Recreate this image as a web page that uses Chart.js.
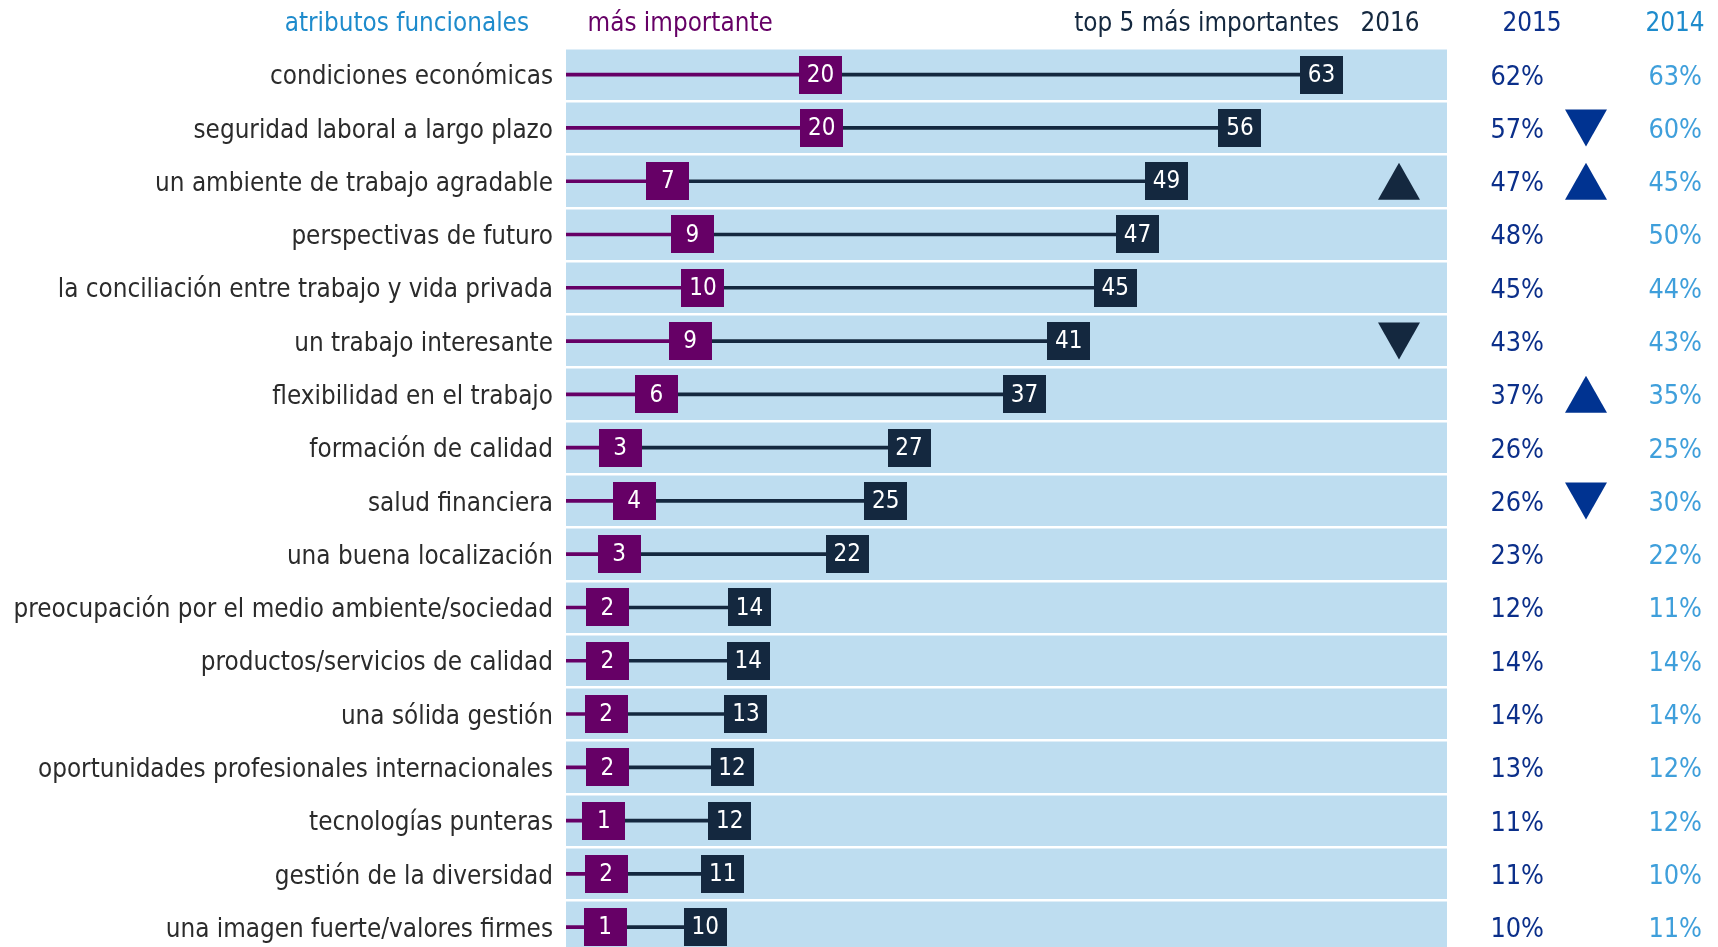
<!DOCTYPE html>
<html>
<head>
<meta charset="utf-8">
<script src="https://cdn.jsdelivr.net/npm/chart.js@4.4.1/dist/chart.umd.min.js"></script>
<style>
  html, body { margin: 0; padding: 0; background: #ffffff; overflow: hidden; }
  #wrap { position: relative; width: 1718px; height: 985px; }
</style>
</head>
<body>
<div id="wrap"><canvas id="chart" width="1718" height="985"></canvas></div>
<script>
// ---------------- data ----------------
const categories = [
  'condiciones económicas',
  'seguridad laboral a largo plazo',
  'un ambiente de trabajo agradable',
  'perspectivas de futuro',
  'la conciliación entre trabajo y vida privada',
  'un trabajo interesante',
  'flexibilidad en el trabajo',
  'formación de calidad',
  'salud financiera',
  'una buena localización',
  'preocupación por el medio ambiente/sociedad',
  'productos/servicios de calidad',
  'una sólida gestión',
  'oportunidades profesionales internacionales',
  'tecnologías punteras',
  'gestión de la diversidad',
  'una imagen fuerte/valores firmes'
];
// "más importante" (share, %)
const mostImportant = [20.0, 20.1, 6.9, 9.0, 9.9, 8.8, 5.9, 2.8, 4.0, 2.7, 1.7, 1.7, 1.6, 1.7, 1.4, 1.6, 1.5];
const mostImportantLabels = ['20', '20', '7', '9', '10', '9', '6', '3', '4', '3', '2', '2', '2', '2', '1', '2', '1'];
// "top 5 más importantes" 2016 (share, %)
const top5 = [63.0, 56.0, 49.7, 47.2, 45.3, 41.3, 37.5, 27.6, 25.6, 22.3, 13.9, 13.8, 13.6, 12.4, 12.2, 11.6, 10.1];
const top5Labels = ['63', '56', '49', '47', '45', '41', '37', '27', '25', '22', '14', '14', '13', '12', '12', '11', '10'];
const share2015 = ['62%', '57%', '47%', '48%', '45%', '43%', '37%', '26%', '26%', '23%', '12%', '14%', '14%', '13%', '11%', '11%', '10%'];
const share2014 = ['63%', '60%', '45%', '50%', '44%', '43%', '35%', '25%', '30%', '22%', '11%', '14%', '14%', '12%', '12%', '10%', '11%'];
// significant changes: 1 = up, -1 = down, 0 = none
const trend2016 = [0, 0, 1, 0, 0, -1, 0, 0, 0, 0, 0, 0, 0, 0, 0, 0, 0];
const trend2015 = [0, -1, 1, 0, 0, 0, 1, 0, -1, 0, 0, 0, 0, 0, 0, 0, 0];
const headerLabels = ['atributos funcionales', 'más importante', 'top 5 más importantes', '2016', '2015', '2014'];

// ---------------- style ----------------
const FONT = "'DejaVu Sans Condensed', 'DejaVu Sans', sans-serif";
const C_BAND = '#BEDDF0';
const C_PURPLE = '#660066';
const C_NAVY = '#14283F';
const C_LABEL = '#2B2B2B';
const C_2015 = '#0B2F8A';
const C_2014 = '#3F9FDB';
const C_HEAD_BLUE = '#1E8BCC';
const C_TRI_2015 = '#003391';
const X_MIN = -1.85, X_MAX = 73.77;

function boxImage(color) {
  const c = document.createElement('canvas');
  c.width = 43; c.height = 38;
  const g = c.getContext('2d');
  g.fillStyle = color;
  g.fillRect(0, 0, 43, 38);
  return c;
}

function triangle(ctx, cx, cy, dir, color) {
  const w = 42, h = 37;
  ctx.fillStyle = color;
  ctx.beginPath();
  if (dir > 0) {
    ctx.moveTo(cx, cy - h / 2);
    ctx.lineTo(cx + w / 2, cy + h / 2);
    ctx.lineTo(cx - w / 2, cy + h / 2);
  } else {
    ctx.moveTo(cx, cy + h / 2);
    ctx.lineTo(cx + w / 2, cy - h / 2);
    ctx.lineTo(cx - w / 2, cy - h / 2);
  }
  ctx.closePath();
  ctx.fill();
}

const bandPlugin = {
  id: 'band',
  beforeDraw(chart) {
    const a = chart.chartArea, ctx = chart.ctx;
    ctx.save();
    ctx.fillStyle = C_BAND;
    ctx.fillRect(a.left, a.top, a.right - a.left, a.bottom - a.top);
    ctx.restore();
  }
};

const markerLabelPlugin = {
  id: 'markerLabels',
  afterDatasetsDraw(chart) {
    const ctx = chart.ctx;
    ctx.save();
    ctx.font = '24px ' + FONT;
    ctx.fillStyle = '#ffffff';
    ctx.textAlign = 'center';
    ctx.textBaseline = 'middle';
    [[2, mostImportantLabels], [3, top5Labels]].forEach(([di, labels]) => {
      chart.getDatasetMeta(di).data.forEach((pt, i) => {
        ctx.fillText(labels[i], pt.x, pt.y + 1);
      });
    });
    ctx.restore();
  }
};

const tablePlugin = {
  id: 'table',
  afterDraw(chart) {
    const ctx = chart.ctx, a = chart.chartArea;
    const ys = chart.scales.y, xs = chart.scales.x;
    ctx.save();
    ctx.font = '25.8px ' + FONT;
    ctx.textBaseline = 'middle';
    const hy = 24;
    ctx.fillStyle = C_HEAD_BLUE; ctx.textAlign = 'right';
    ctx.fillText(headerLabels[0], a.left - 37, hy);
    ctx.fillStyle = C_PURPLE; ctx.textAlign = 'left';
    ctx.fillText(headerLabels[1], xs.getPixelForValue(0), hy);
    ctx.fillStyle = C_NAVY; ctx.textAlign = 'right';
    ctx.fillText(headerLabels[2], a.right - 108, hy);
    ctx.textAlign = 'center';
    ctx.fillText(headerLabels[3], a.right - 57, hy);
    ctx.fillStyle = C_2015;
    ctx.fillText(headerLabels[4], a.right + 85, hy);
    ctx.fillStyle = C_HEAD_BLUE;
    ctx.fillText(headerLabels[5], a.right + 228, hy);

    ctx.font = '26.8px ' + FONT;
    categories.forEach((cat, i) => {
      const y = ys.getPixelForValue(i);
      ctx.textAlign = 'right';
      ctx.fillStyle = C_2015;
      ctx.fillText(share2015[i], a.right + 97, y + 3);
      ctx.fillStyle = C_2014;
      ctx.fillText(share2014[i], a.right + 255, y + 3);
      if (trend2016[i]) triangle(ctx, a.right - 48, y, trend2016[i], C_NAVY);
      if (trend2015[i]) triangle(ctx, a.right + 139, y, trend2015[i], C_TRI_2015);
    });
    ctx.restore();
  }
};

new Chart(document.getElementById('chart'), {
  type: 'bar',
  data: {
    labels: categories,
    datasets: [
      {
        label: 'línea más importante',
        data: mostImportant.map(v => [X_MIN, v]),
        backgroundColor: C_PURPLE,
        borderWidth: 0,
        barThickness: 3,
        grouped: false,
        order: 2
      },
      {
        label: 'línea top 5',
        data: mostImportant.map((v, i) => [v, top5[i]]),
        backgroundColor: C_NAVY,
        borderWidth: 0,
        barThickness: 3,
        grouped: false,
        order: 2
      },
      {
        type: 'line',
        label: 'más importante',
        indexAxis: 'y',
        data: mostImportant.map((v, i) => ({ x: v, y: categories[i] })),
        showLine: false,
        pointStyle: boxImage(C_PURPLE),
        pointRadius: 20,
        order: 0
      },
      {
        type: 'line',
        label: 'top 5 más importantes',
        indexAxis: 'y',
        data: top5.map((v, i) => ({ x: v, y: categories[i] })),
        showLine: false,
        pointStyle: boxImage(C_NAVY),
        pointRadius: 20,
        order: 0
      }
    ]
  },
  options: {
    indexAxis: 'y',
    responsive: false,
    animation: false,
    devicePixelRatio: 1,
    layout: { padding: { top: 48, right: 271, bottom: 31.2, left: 0 } },
    plugins: { legend: { display: false }, tooltip: { enabled: false } },
    scales: {
      x: { type: 'linear', min: X_MIN, max: X_MAX, display: false },
      y: {
        type: 'category',
        offset: true,
        grid: { offset: true, color: '#ffffff', lineWidth: 2.5, drawTicks: false },
        border: { display: false },
        ticks: { color: C_LABEL, padding: 13, labelOffset: 3, font: { family: FONT, size: 25.8 } },
        afterFit(scale) { scale.width = 566; }
      }
    }
  },
  plugins: [bandPlugin, markerLabelPlugin, tablePlugin]
});
</script>
</body>
</html>
